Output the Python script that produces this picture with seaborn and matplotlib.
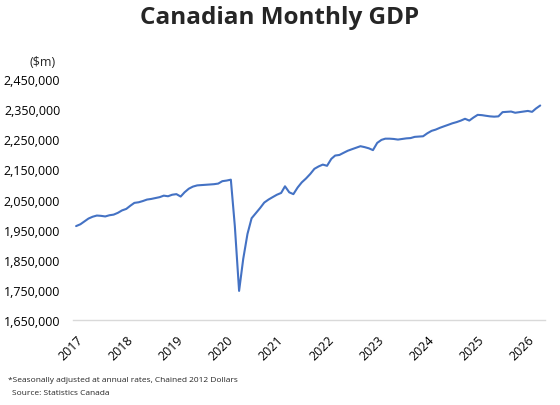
import pandas as pd
import matplotlib.pyplot as plt
import matplotlib.dates as mdates
import matplotlib.ticker as mticker
import seaborn as sns

# Monthly real GDP ($m), Jan 2017 onwards
months = pd.date_range("2017-01-01", periods=112, freq="MS")
gdp_2017 = [1962000, 1968000, 1977000, 1987000, 1993000, 1997000,
            1996000, 1994000, 1998000, 2000000, 2006000, 2014000]
gdp_2018 = [2019000, 2030000, 2039000, 2041000, 2045000, 2050000,
            2052000, 2055000, 2058000, 2063000, 2061000, 2066000]
gdp_2019 = [2068000, 2060000, 2074000, 2086000, 2093000, 2097000,
            2098000, 2099000, 2100000, 2101000, 2103000, 2111000]
gdp_2020 = [2113000, 2116000, 1962000, 1747000, 1853000, 1936000,
            1988000, 2005000, 2022000, 2040000, 2050000, 2058000]
gdp_2021 = [2066000, 2072000, 2094000, 2074000, 2068000, 2090000,
            2107000, 2120000, 2135000, 2152000, 2160000, 2166000]
gdp_2022 = [2162000, 2185000, 2196000, 2198000, 2205000, 2212000,
            2217000, 2222000, 2227000, 2224000, 2220000, 2214000]
gdp_2023 = [2238000, 2248000, 2252000, 2252000, 2251000, 2249000,
            2251000, 2253000, 2254000, 2258000, 2259000, 2260000]
gdp_2024 = [2270000, 2278000, 2282000, 2288000, 2293000, 2298000,
            2303000, 2307000, 2312000, 2318000, 2312000, 2322000]
gdp_2025 = [2331000, 2330000, 2328000, 2326000, 2325000, 2326000,
            2340000, 2341000, 2342000, 2338000, 2340000, 2342000]
gdp_2026 = [2344000, 2341000, 2352000, 2362000]

gdp = (gdp_2017 + gdp_2018 + gdp_2019 + gdp_2020 + gdp_2021
       + gdp_2022 + gdp_2023 + gdp_2024 + gdp_2025 + gdp_2026)
df = pd.DataFrame({"Month": months, "GDP": gdp})

sns.set_style("white")
plt.rcParams["font.family"] = ["Open Sans", "DejaVu Sans"]

fig = plt.figure(figsize=(5.6, 4.06), dpi=100)
ax = fig.add_axes([0.130, 0.209, 0.843, 0.594])

sns.lineplot(data=df, x="Month", y="GDP", ax=ax, color="#4472C4", linewidth=1.5)

ax.set_ylim(1650000, 2450000)
ax.set_yticks(range(1650000, 2450001, 100000))
ax.yaxis.set_major_formatter(mticker.FuncFormatter(lambda v, p: f"{int(v):,}"))
ax.set_xlim(pd.Timestamp("2016-12-08"), pd.Timestamp("2026-05-05"))
ax.xaxis.set_major_locator(mdates.YearLocator())
ax.xaxis.set_major_formatter(mdates.DateFormatter("%Y"))
ax.tick_params(axis="both", length=0, labelsize=9, colors="#000000")
ax.tick_params(axis="y", pad=9)
ax.tick_params(axis="x", pad=9)
plt.setp(ax.get_xticklabels(), rotation=45, ha="right", rotation_mode="anchor")
ax.set_xlabel("")
ax.set_ylabel("")

# Only the bottom axis line is kept
for name, spine in ax.spines.items():
    if name != "bottom":
        spine.set_visible(False)
ax.spines["bottom"].set_color("#d9d9d9")
ax.spines["bottom"].set_linewidth(1.0)

fig.text(0.5, 0.955, "Canadian Monthly GDP", ha="center", va="center",
         fontsize=17.5, fontweight="bold")
fig.text(0.052, 0.847, "($m)", ha="left", va="center", fontsize=9)
fig.text(0.014, 0.063, "*Seasonally adjusted at annual rates, Chained 2012 Dollars",
         ha="left", va="center", fontsize=6.0)
fig.text(0.021, 0.032, "Source: Statistics Canada", ha="left", va="center",
         fontsize=6.0)

fig.savefig("out.png", dpi=100)
